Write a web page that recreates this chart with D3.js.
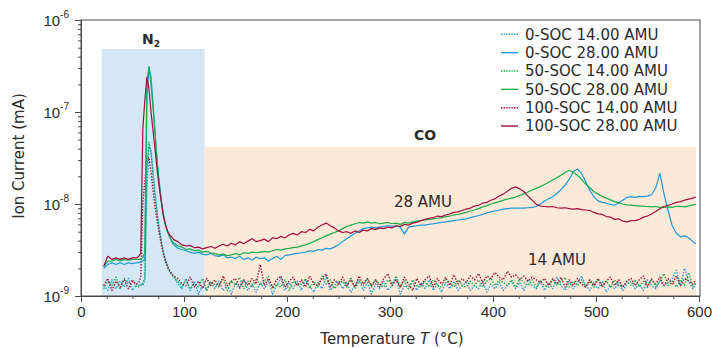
<!DOCTYPE html>
<html><head><meta charset="utf-8">
<script src="https://cdn.jsdelivr.net/npm/d3@7"></script>
<style>
html,body{margin:0;padding:0;background:#fff;}
svg{display:block;font-family:"DejaVu Sans",sans-serif;}
</style></head>
<body><svg id="chart" width="715" height="348"></svg>
<script>
// ---------- DATA ----------
const UNIT = 1e-9; // values below are in units of 1e-9 mA
const temperature = [
 22,26,30,34,38,42,46,50,54,
 56,58,60,62,64,66,68,70,72,74,76,78,80,82,84,86,88,90,
 94,98,102,106,110,114,118,122,126,130,
 134,138,142,146,150,154,158,162,166,170,
 174,178,182,186,190,194,198,202,206,210,
 214,218,222,226,230,234,238,242,246,250,
 254,258,262,266,270,274,278,282,286,290,
 294,298,302,306,310,314,318,322,326,330,
 334,338,342,346,350,354,358,362,366,370,
 374,378,382,386,390,394,398,402,406,410,
 414,418,422,426,430,434,438,442,446,450,
 454,458,462,466,470,474,478,482,486,490,
 494,498,502,506,510,514,518,522,526,530,
 534,538,542,546,550,554,558,562,566,570,
 574,578,582,586,590,594,597
];
const soc0_14 = [
 1.3,1.15,1.5,1.2,1.45,1.25,1.55,1.15,1.35,
 1.3,1.35,1.3,1.5,15,42,38,22,13,8,5.5,4.0,3.0,2.5,2.1,1.9,1.75,1.65,
 1.35,1.2,1.55,1.15,1.45,1.05,1.3,1.15,1.4,1.2,
 1.45,1.15,1.3,1.05,1.4,1.2,1.5,1.15,1.35,1.1,
 1.4,1.2,1.45,1.05,1.3,1.55,1.15,1.4,1.2,1.45,
 1.15,1.5,1.3,1.1,1.4,1.2,1.65,1.15,1.3,1.45,
 1.2,1.4,1.1,1.3,1.5,1.15,1.4,1.05,1.35,1.2,
 1.45,1.15,1.3,1.55,1.05,1.3,1.2,1.45,1.15,1.4,
 1.2,1.5,1.15,1.35,1.1,1.4,1.2,1.45,1.15,1.3,
 1.4,1.15,1.3,1.2,1.45,1.1,1.35,1.2,1.4,1.15,
 1.3,1.45,1.2,1.4,1.15,1.5,1.3,1.2,1.45,1.15,
 1.4,1.2,1.6,1.3,1.15,1.45,1.2,1.4,1.65,1.3,
 1.15,1.4,1.2,1.45,1.1,1.3,1.2,1.4,1.15,1.35,
 1.45,1.2,1.35,1.15,1.5,1.3,1.2,1.45,1.3,1.4,
 1.55,1.9,1.3,2.0,1.45,1.2,1.35
];
const soc0_28 = [
 2.0,2.2,2.3,2.2,2.3,2.2,2.3,2.25,2.3,
 2.3,2.35,2.4,2.5,150,310,240,120,58,28,17,11,7.6,6.0,5.0,4.4,3.9,3.6,
 3.3,3.2,3.1,3.0,2.9,3.0,2.85,2.8,2.9,2.75,
 2.7,2.8,2.6,2.65,2.55,2.7,2.5,2.6,2.45,2.65,
 2.55,2.6,2.4,2.55,2.7,2.5,2.75,2.8,2.85,2.9,
 2.95,3.0,3.1,3.05,3.2,3.15,3.3,3.25,3.4,3.6,
 3.9,4.2,4.5,4.8,5.1,5.4,5.5,5.6,5.5,5.6,
 5.7,5.8,5.7,5.8,5.6,4.7,5.6,5.7,5.8,5.9,
 5.9,6.0,6.1,6.2,6.3,6.4,6.5,6.6,6.7,6.8,
 6.9,7.1,7.3,7.5,7.7,8.0,8.2,8.4,8.6,8.8,
 8.9,9.0,9.0,9.0,9.0,9.1,9.2,9.4,10.0,10.8,
 11.4,12.0,13.0,14.3,16.0,18.5,22.5,24.0,21.5,17.5,
 14.0,12.0,10.8,10.4,10.2,9.9,9.7,10.3,11.0,11.8,
 12.0,11.8,12.1,12.0,12.2,12.6,15.0,21.5,13.0,8.5,
 5.8,4.8,4.4,4.5,4.3,3.9,3.7
];
const soc50_14 = [
 1.2,1.45,1.3,1.6,1.2,1.55,1.35,1.5,1.25,
 1.25,1.3,1.35,1.6,25,47,36,20,12,7.5,5.2,3.8,2.9,2.4,2.05,1.85,1.7,1.6,
 1.45,1.25,1.5,1.2,1.35,1.25,1.55,1.15,1.45,1.3,
 1.35,1.5,1.15,1.45,1.3,1.6,1.2,1.45,1.25,1.55,
 1.3,1.45,1.65,1.2,1.35,1.25,1.5,1.15,1.45,1.3,
 1.35,1.55,1.2,1.45,1.25,1.65,1.35,1.5,1.2,1.35,
 1.45,1.25,1.6,1.2,1.45,1.3,1.55,1.25,1.5,1.35,
 1.25,1.5,1.35,1.65,1.25,1.45,1.2,1.5,1.3,1.25,
 1.45,1.25,1.5,1.3,1.25,1.55,1.4,1.25,1.5,1.3,
 1.25,1.45,1.3,1.5,1.25,1.45,1.55,1.3,1.5,1.4,
 1.3,1.5,1.25,1.55,1.4,1.3,1.5,1.25,1.45,1.3,
 1.25,1.5,1.3,1.45,1.6,1.25,1.45,1.3,1.5,1.25,
 1.45,1.25,1.5,1.3,1.45,1.25,1.5,1.3,1.25,1.45,
 1.3,1.5,1.25,1.45,1.3,1.55,1.25,1.45,1.75,1.3,
 1.45,1.25,1.5,1.3,1.8,1.25,1.4
];
const soc50_28 = [
 2.1,2.4,2.4,2.5,2.4,2.5,2.45,2.5,2.5,
 2.5,2.5,2.6,3.0,210,310,200,110,58,28,16.5,10.5,7.4,5.9,5.0,4.4,4.0,3.8,
 3.5,3.4,3.2,3.25,3.1,3.15,3.0,3.05,2.95,2.9,
 2.8,2.85,2.75,2.8,2.9,2.8,2.95,2.9,3.0,2.95,
 3.0,3.05,3.0,3.1,3.2,3.15,3.25,3.3,3.35,3.4,
 3.5,3.6,3.75,3.9,4.1,4.3,4.5,4.7,4.9,5.1,
 5.4,5.7,5.9,6.1,6.3,6.2,6.4,6.2,6.3,6.1,
 6.2,6.3,6.1,6.2,6.0,6.3,6.2,6.4,6.5,6.6,
 6.7,6.8,6.9,7.0,7.1,7.3,7.4,7.6,7.7,7.9,
 8.1,8.4,8.6,8.9,9.3,9.6,10.0,10.3,10.6,11.0,
 11.3,11.6,11.9,12.4,12.9,13.5,14.2,14.8,15.5,16.3,
 17.2,18.2,19.3,20.5,22.0,23.3,22.0,20.5,18.5,16.5,
 15.0,13.6,12.8,12.1,11.6,11.1,10.6,10.3,10.0,9.8,
 9.7,9.6,9.5,9.5,9.4,9.3,9.4,9.2,9.2,9.3,
 9.2,9.4,9.4,9.3,9.5,9.8,9.9
];
const soc100_14 = [
 1.3,1.55,1.15,1.45,1.25,1.5,1.2,1.45,1.35,
 1.4,1.6,10,18,30,32,22,14,9,6.5,4.8,3.6,2.9,2.4,2.1,1.9,1.75,1.65,
 1.55,1.35,1.3,1.6,1.25,1.45,1.2,1.55,1.3,1.5,
 1.25,1.65,1.3,1.45,1.55,1.25,1.5,1.3,1.55,1.35,
 2.2,1.3,1.55,1.25,1.5,1.65,1.25,1.45,1.6,1.3,
 1.5,1.25,1.65,1.35,1.3,1.55,1.75,1.25,1.5,1.35,
 1.6,1.3,1.5,1.25,1.65,1.35,1.55,1.3,1.5,1.25,
 1.55,1.75,1.3,1.5,1.25,1.6,1.35,1.15,1.55,1.3,
 1.5,1.65,1.25,1.55,1.35,1.6,1.3,1.7,1.35,1.55,
 1.4,1.65,1.5,1.75,1.4,1.65,1.55,1.8,1.6,1.5,
 1.85,1.6,1.7,1.5,1.65,1.45,1.6,1.5,1.4,1.55,
 1.3,1.55,1.35,1.6,1.25,1.5,1.3,1.55,1.35,1.25,
 1.5,1.3,1.55,1.25,1.45,1.6,1.3,1.5,1.25,1.45,
 1.55,1.3,1.5,1.65,1.25,1.5,1.35,1.6,1.3,1.55,
 1.35,1.65,1.3,1.55,1.45,1.35,1.5
];
const soc100_28 = [
 2.1,2.7,2.5,2.6,2.5,2.6,2.5,2.6,2.6,
 2.7,2.9,65,135,240,180,100,62,38,23,15,10.5,7.5,6.0,5.1,4.6,4.4,4.1,
 3.9,3.6,3.5,3.55,3.35,3.4,3.25,3.35,3.45,3.3,
 3.5,3.65,3.5,3.75,3.6,3.9,3.7,3.95,4.2,3.9,
 4.0,4.15,3.9,4.3,4.2,4.45,4.3,4.6,4.8,4.6,
 5.0,4.9,5.3,5.1,5.6,5.9,6.2,5.8,5.5,5.1,
 4.9,5.0,4.8,5.1,4.9,5.2,5.1,5.4,5.3,5.5,
 5.4,5.6,5.5,5.8,5.7,6.0,5.9,6.2,6.3,6.6,
 6.8,7.0,7.1,7.4,7.3,7.6,7.8,8.1,8.2,8.5,
 8.8,9.0,9.5,9.7,10.2,10.4,11.0,11.4,12.2,12.8,
 13.8,14.8,15.4,14.6,13.6,12.2,11.0,9.9,9.5,9.4,
 9.3,9.4,9.1,9.0,9.1,8.9,8.8,8.9,8.7,8.6,
 8.5,8.1,7.8,7.7,7.3,7.2,6.8,6.9,6.5,6.4,
 6.6,6.6,6.8,7.2,7.4,7.8,8.3,8.9,9.4,9.7,
 10.0,10.4,10.6,11.0,11.3,11.6,11.9
];
const seriesNames = ["0-SOC 14.00 AMU","0-SOC 28.00 AMU","50-SOC 14.00 AMU","50-SOC 28.00 AMU","100-SOC 14.00 AMU","100-SOC 28.00 AMU"];
const seriesValues = [soc0_14, soc0_28, soc50_14, soc50_28, soc100_14, soc100_28];
const seriesColors = ["#1f99d8","#1f99d8","#17ad4b","#17ad4b","#a00f3d","#a00f3d"];
const seriesDotted = [true,false,true,false,true,false];
const xTicks = [0,100,200,300,400,500,600];
const xMinorTicks = [25,50,75,125,150,175,225,250,275,325,350,375,425,450,475,525,550,575];
const yTicks = [1e-9,1e-8,1e-7,1e-6];
const yTickExponents = ["-9","-8","-7","-6"];
// shaded regions: [T start, T end, top value]
const regionN2 = [20, 120, 4.85e-7];
const regionCO = [120, 597, 4.2e-8];

// ---------- CHART ----------
const svg = d3.select("#chart");
const L = 81, R = 699, T = 20, B = 296;
const x = d3.scaleLinear().domain([0,600]).range([L,R]);
const y = d3.scaleLog().domain([1e-9,1e-6]).range([B,T]);
const axisColor = "#4a4a4a";
const textColor = "#2b2b2b";

// shaded regions
svg.append("rect").attr("x", x(regionN2[0])).attr("y", y(regionN2[2]))
  .attr("width", x(regionN2[1]) - x(regionN2[0])).attr("height", B - y(regionN2[2]))
  .attr("fill", "#d5e7f5");
svg.append("rect").attr("x", x(regionCO[0])).attr("y", y(regionCO[2]))
  .attr("width", x(regionCO[1]) - x(regionCO[0])).attr("height", B - y(regionCO[2]))
  .attr("fill", "#fde9d7");

// lines (red on top)
const line = d3.line().x((d,i) => x(temperature[i])).y(d => y(d*UNIT));
const order = [0,2,4,1,3,5];
order.forEach(k => {
  svg.append("path").datum(seriesValues[k])
    .attr("d", line)
    .attr("fill","none")
    .attr("stroke", seriesColors[k])
    .attr("stroke-width", seriesDotted[k] ? 1.4 : 1.2)
    .attr("stroke-dasharray", seriesDotted[k] ? "1.4,1.5" : null)
    .attr("stroke-linejoin","round");
});

// frame
svg.append("rect").attr("x",L).attr("y",T).attr("width",R-L+1).attr("height",B-T)
  .attr("fill","none").attr("stroke",axisColor).attr("stroke-width",1);

// x axis
const gx = svg.append("g").attr("transform",`translate(0,${B})`)
  .call(d3.axisBottom(x).tickValues(xTicks).tickSize(6).tickSizeOuter(0).tickFormat(d3.format("d")));
gx.select(".domain").attr("stroke",axisColor);
gx.selectAll(".tick line").attr("stroke",axisColor);
gx.selectAll("text").attr("font-size",15).attr("fill",textColor).attr("dy","0.95em").attr("y",7);
const gxm = svg.append("g").attr("transform",`translate(0,${B})`)
  .call(d3.axisBottom(x).tickValues(xMinorTicks).tickSize(3).tickSizeOuter(0).tickFormat(""));
gxm.select(".domain").remove();
gxm.selectAll(".tick line").attr("stroke",axisColor);

// y axis
const gy = svg.append("g").attr("transform",`translate(${L},0)`)
  .call(d3.axisLeft(y).tickValues(yTicks).tickSize(6).tickSizeOuter(0).tickFormat(""));
gy.select(".domain").attr("stroke",axisColor);
gy.selectAll(".tick line").attr("stroke",axisColor);
gy.selectAll(".tick").each(function(d,i){
  const t = d3.select(this).append("text").attr("x",-12).attr("dy","0.35em")
    .attr("text-anchor","end").attr("fill",textColor).attr("font-size",15);
  t.append("tspan").text("10");
  t.append("tspan").attr("font-size",10).attr("dy","-0.75em").text(yTickExponents[i]);
});
const yMinor = [];
yTicks.slice(0,3).forEach(b => { for (let m=2;m<=9;m++) yMinor.push(b*m); });
const gym = svg.append("g").attr("transform",`translate(${L},0)`)
  .call(d3.axisLeft(y).tickValues(yMinor).tickSize(3).tickSizeOuter(0).tickFormat(""));
gym.select(".domain").remove();
gym.selectAll(".tick line").attr("stroke",axisColor);

// axis titles
const xt = svg.append("text").attr("x",392).attr("y",344).attr("text-anchor","middle")
  .attr("font-size",15).attr("fill",textColor);
xt.append("tspan").text("Temperature ");
xt.append("tspan").attr("font-style","italic").text("T");
xt.append("tspan").text(" (°C)");
svg.append("text").attr("transform","translate(24,156) rotate(-90)").attr("text-anchor","middle")
  .attr("font-size",15).attr("fill",textColor).text("Ion Current (mA)");

// annotations
const n2 = svg.append("text").attr("x",151).attr("y",44).attr("text-anchor","middle")
  .attr("font-size",14).attr("font-weight","bold").attr("fill",textColor);
n2.append("tspan").text("N");
n2.append("tspan").attr("font-size",9).attr("dy","0.3em").text("2");
svg.append("text").attr("x",425).attr("y",140).attr("text-anchor","middle")
  .attr("font-size",14).attr("font-weight","bold").attr("fill",textColor).text("CO");
svg.append("text").attr("x",423).attr("y",207).attr("text-anchor","middle")
  .attr("font-size",15).attr("fill",textColor).text("28 AMU");
svg.append("text").attr("x",557).attr("y",265).attr("text-anchor","middle")
  .attr("font-size",15).attr("fill",textColor).text("14 AMU");

// legend
const lg = svg.append("g");
seriesNames.forEach((name,i) => {
  const yy = 34.3 + i*18.35;
  lg.append("line").attr("x1",501).attr("x2",518).attr("y1",yy).attr("y2",yy)
    .attr("stroke",seriesColors[i]).attr("stroke-width",1.4)
    .attr("stroke-dasharray", seriesDotted[i] ? "1.4,1.2" : null);
  lg.append("text").attr("x",525).attr("y",yy).attr("dy","0.35em")
    .attr("font-size",15).attr("fill",textColor).text(name);
});
</script></body></html>
